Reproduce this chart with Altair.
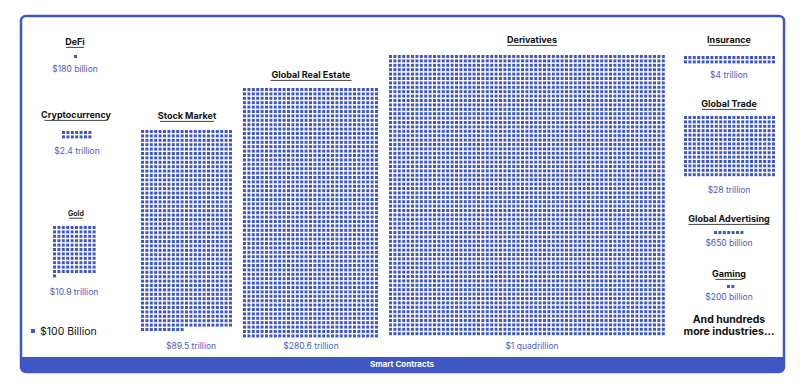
import altair as alt
import pandas as pd

# ---- data ----
industries = ["DeFi", "Cryptocurrency", "Gold", "Stock Market", "Global Real Estate",
              "Derivatives", "Insurance", "Global Trade", "Global Advertising", "Gaming"]
value_labels = ["$180 billion", "$2.4 trillion", "$10.9 trillion", "$89.5 trillion",
                "$280.6 trillion", "$1 quadrillion", "$4 trillion", "$28 trillion",
                "$650 billion", "$200 billion"]
# number of drawn squares per industry (each square = $100 Billion in the legend)
squares = [1, 14, 111, 955, 1767, 4032, 42, 294, 7, 2]
legend_label = "$100 Billion"
footer_lines = ["And hundreds", "more industries..."]
bar_label = "Smart Contracts"

# ---- layout (page coordinates) ----
grid_origin = [(74, 55), (62, 131), (53, 226), (141, 130), (243, 88),
               (389, 55), (684, 56), (684, 116), (714, 231), (727, 285)]
grid_cols = [1, 7, 10, 21, 31, 63, 21, 21, 7, 2]
title_pos = [(75, 42), (76, 115), (76, 214), (187, 116), (311, 75),
             (532, 40), (729, 40), (729, 104), (729, 219), (729, 274)]
label_pos = [(75, 69), (77, 151), (74, 292), (191, 346), (311, 346),
             (532, 346), (729, 75), (729, 190), (729, 243), (729, 297)]
PITCH = 4.4
SIZE = 3.0
BLUE = "#3f57c4"
LABEL_BLUE = "#4a5ec0"
FONT = "Inter"

sq_rows = []
for name, n, (ox, oy), cols in zip(industries, squares, grid_origin, grid_cols):
    for k in range(n):
        c, r = k % cols, k // cols
        x = ox + c * PITCH
        y = oy + r * PITCH
        sq_rows.append({"industry": name, "x": x, "x2": x + SIZE, "y": y, "y2": y + SIZE})
sq_df = pd.DataFrame(sq_rows)

title_rows = []
for name, (tx, ty) in zip(industries, title_pos):
    fs = 7 if name == "Gold" else 9
    w = len(name) * fs * 0.5
    title_rows.append({"text": name, "x": tx, "y": ty, "fs": fs,
                       "ux": tx - w / 2, "ux2": tx + w / 2, "uy": ty + fs * 0.6})
title_df = pd.DataFrame(title_rows)
big_title_df = title_df[title_df.fs == 9]
small_title_df = title_df[title_df.fs == 7]

label_df = pd.DataFrame([{"text": t, "x": p[0], "y": p[1]} for t, p in zip(value_labels, label_pos)])
footer_df = pd.DataFrame([{"text": t, "x": 729, "y": 320 + 12 * i} for i, t in enumerate(footer_lines)])

xscale = alt.Scale(domain=[8, 792], nice=False, zero=False)
yscale = alt.Scale(domain=[8, 378], nice=False, zero=False, reverse=True)


def X(field=None, datum=None):
    if datum is not None:
        return alt.X(datum=datum, type="quantitative", scale=xscale, axis=None)
    return alt.X(field, type="quantitative", scale=xscale, axis=None)


def Y(field=None, datum=None):
    if datum is not None:
        return alt.Y(datum=datum, type="quantitative", scale=yscale, axis=None)
    return alt.Y(field, type="quantitative", scale=yscale, axis=None)


base = alt.Chart(pd.DataFrame({"a": [0]}))

frame = base.mark_rect(fill="white", stroke=BLUE, strokeWidth=2.5, cornerRadius=5).encode(
    x=X(datum=21), x2=alt.X2(datum=784), y=Y(datum=16), y2=alt.Y2(datum=372))
bar = base.mark_rect(fill=BLUE, cornerRadiusBottomLeft=5, cornerRadiusBottomRight=5).encode(
    x=X(datum=21), x2=alt.X2(datum=784), y=Y(datum=357), y2=alt.Y2(datum=372))
bar_text = base.mark_text(text=bar_label, color="white", font=FONT, fontWeight="bold",
                          fontSize=8, align="center", baseline="middle").encode(
    x=X(datum=402), y=Y(datum=364.5))

squares_layer = alt.Chart(sq_df).mark_rect(fill=BLUE).encode(
    x=X("x"), x2="x2", y=Y("y"), y2="y2")

titles = alt.Chart(big_title_df).mark_text(font=FONT, fontWeight="bold", fontSize=9,
                                           color="#111111", align="center", baseline="middle").encode(
    x=X("x"), y=Y("y"), text="text:N")
small_titles = alt.Chart(small_title_df).mark_text(font=FONT, fontWeight="bold", fontSize=7,
                                                   color="#222222", align="center", baseline="middle").encode(
    x=X("x"), y=Y("y"), text="text:N")
underlines = alt.Chart(title_df).mark_rule(color="#111111", strokeWidth=0.8).encode(
    x=X("ux"), x2="ux2", y=Y("uy"))

labels = alt.Chart(label_df).mark_text(font=FONT, fontSize=8.5, color=LABEL_BLUE,
                                       align="center", baseline="middle").encode(
    x=X("x"), y=Y("y"), text="text:N")

footer = alt.Chart(footer_df).mark_text(font=FONT, fontWeight="bold", fontSize=10.5, color="#111111",
                                        align="center", baseline="middle").encode(
    x=X("x"), y=Y("y"), text="text:N")

legend_sq = base.mark_rect(fill=BLUE).encode(
    x=X(datum=31), x2=alt.X2(datum=35), y=Y(datum=329), y2=alt.Y2(datum=333))
legend_txt = base.mark_text(text=legend_label, font=FONT, fontSize=10.5, color="#111111",
                            align="left", baseline="middle").encode(
    x=X(datum=40), y=Y(datum=331.5))

chart = alt.layer(frame, bar, bar_text, squares_layer, titles, small_titles, underlines,
                  labels, footer, legend_sq, legend_txt).properties(
    width=784, height=370, padding=0, autosize=alt.AutoSizeParams(type="none")
).configure_view(stroke=None)

chart.save("out.html", embed_options={"renderer": "svg", "actions": False})
